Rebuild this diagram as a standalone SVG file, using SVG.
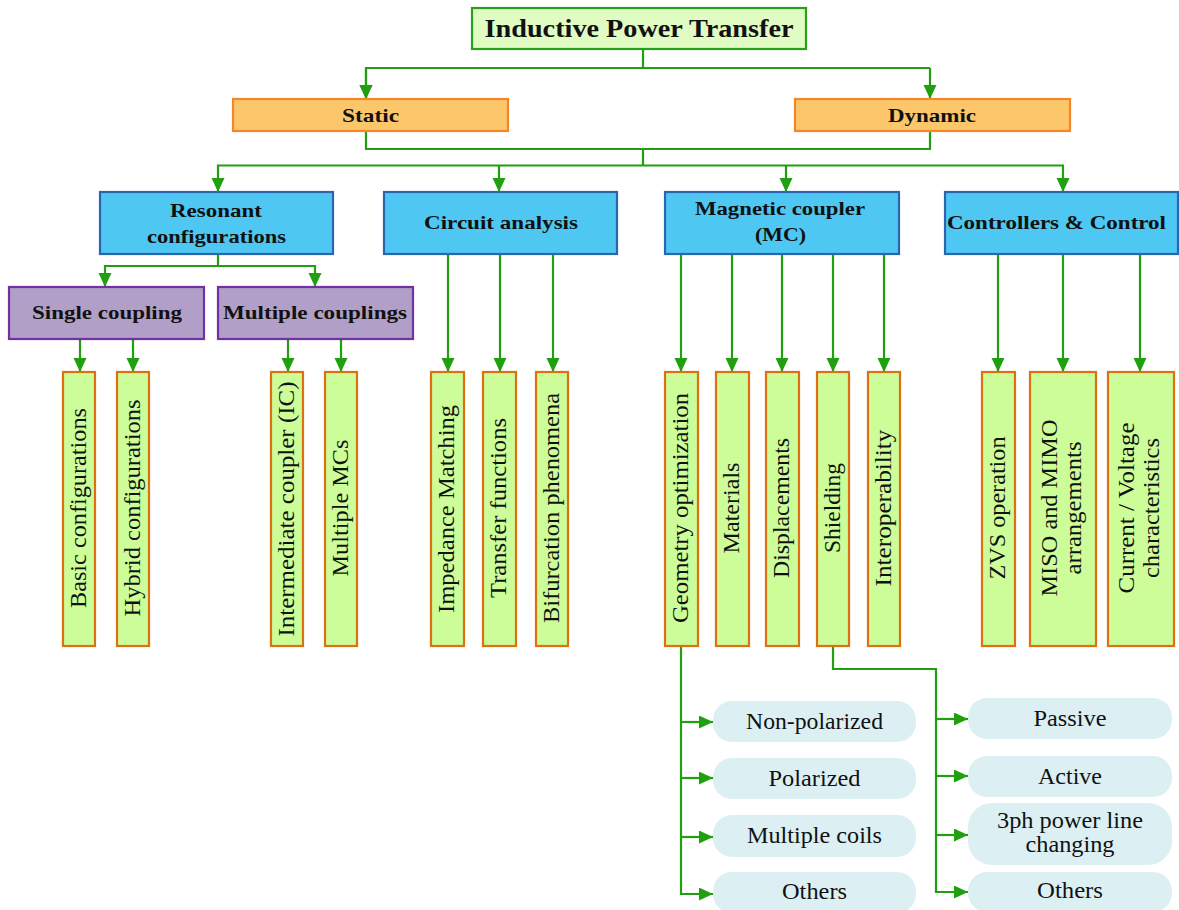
<svg xmlns="http://www.w3.org/2000/svg" width="1179" height="910" viewBox="0 0 1179 910">
<defs>
<marker id="ah" markerUnits="userSpaceOnUse" markerWidth="16" markerHeight="14" refX="14" refY="6.5" orient="auto">
<path d="M0,0 L14,6.5 L0,13 z" fill="#20a010"/>
</marker>
<style>
.root{fill:#e1fcc3;stroke:#27a01c;stroke-width:2.2}
.l1{fill:#fcc76b;stroke:#f5852a;stroke-width:2.2}
.l2{fill:#4ec7f3;stroke:#2b65ae;stroke-width:2.2}
.pu{fill:#b19fc8;stroke:#7230a0;stroke-width:2.2}
.leaf{fill:#ccfd98;stroke:#e0700f;stroke-width:2.2}
.pill{fill:#dcf0f4;stroke:none}
.c{fill:none;stroke:#20a010;stroke-width:2.2}
.a{marker-end:url(#ah)}
text{font-family:"Liberation Serif","Times New Roman",serif;fill:#111;text-anchor:middle}
.b{font-weight:bold;font-size:19px}
.bt{font-weight:bold;font-size:25px}
.n{font-size:23px}
</style>
</defs>
<rect width="1179" height="910" fill="#fff"/>

<g id="connectors">
<path class="c" d="M643,49 V68 H930"/>
<path class="c a" d="M366,68 V99"/>
<path class="c a" d="M643,68 H366 V99"/>
<path class="c a" d="M930,68 V99"/>
<path class="c" d="M366,131 V149 H930 V131"/>
<path class="c" d="M643,149 V165.5"/>
<path class="c a" d="M643,165.5 H218 V192"/>
<path class="c a" d="M499,165.5 V192"/>
<path class="c a" d="M643,165.5 H1063 V192"/>
<path class="c a" d="M786,165.5 V192"/>
<path class="c a" d="M218,254 V266 H105 V287"/>
<path class="c a" d="M218,266 H315 V287"/>
<path class="c a" d="M80,339 V372"/>
<path class="c a" d="M133,339 V372"/>
<path class="c a" d="M288,339 V372"/>
<path class="c a" d="M341,339 V372"/>
<path class="c a" d="M448,254 V372"/>
<path class="c a" d="M500,254 V372"/>
<path class="c a" d="M553,254 V372"/>
<path class="c a" d="M681,254 V372"/>
<path class="c a" d="M732,254 V372"/>
<path class="c a" d="M782,254 V372"/>
<path class="c a" d="M833,254 V372"/>
<path class="c a" d="M884,254 V372"/>
<path class="c a" d="M998,254 V372"/>
<path class="c a" d="M1063,254 V372"/>
<path class="c a" d="M1140,254 V372"/>
<path class="c a" d="M681,646 V894 H713"/>
<path class="c a" d="M681,722 H713"/>
<path class="c a" d="M681,778 H713"/>
<path class="c a" d="M681,837 H713"/>
<path class="c a" d="M833,646 V669 H936 V892 H968"/>
<path class="c a" d="M936,719 H968"/>
<path class="c a" d="M936,776 H968"/>
<path class="c a" d="M936,835 H968"/>
</g>

<g id="n-root"><rect class="root" x="472" y="8" width="334" height="41"/><text class="bt" x="639" y="37" textLength="309" lengthAdjust="spacingAndGlyphs">Inductive Power Transfer</text></g>

<g id="n-static"><rect class="l1" x="233" y="99" width="275" height="32"/><text class="b" x="370.5" y="122" textLength="57" lengthAdjust="spacingAndGlyphs">Static</text></g>
<g id="n-dynamic"><rect class="l1" x="795" y="99" width="275" height="32"/><text class="b" x="932" y="122" textLength="88" lengthAdjust="spacingAndGlyphs">Dynamic</text></g>

<g id="n-resonant"><rect class="l2" x="100" y="192" width="233" height="62"/><text class="b" x="216" y="217" textLength="92" lengthAdjust="spacingAndGlyphs">Resonant</text><text class="b" x="216.5" y="243" textLength="139" lengthAdjust="spacingAndGlyphs">configurations</text></g>
<g id="n-circuit"><rect class="l2" x="384" y="192" width="233" height="62"/><text class="b" x="501" y="229" textLength="154" lengthAdjust="spacingAndGlyphs">Circuit analysis</text></g>
<g id="n-mc"><rect class="l2" x="665" y="192" width="234" height="62"/><text class="b" x="780" y="215" textLength="170" lengthAdjust="spacingAndGlyphs">Magnetic coupler</text><text class="b" x="780.5" y="241" textLength="51" lengthAdjust="spacingAndGlyphs">(MC)</text></g>
<g id="n-ctrl"><rect class="l2" x="945" y="192" width="233" height="62"/><text class="b" x="1056.5" y="229" textLength="219" lengthAdjust="spacingAndGlyphs">Controllers &amp; Control</text></g>

<g id="n-single"><rect class="pu" x="9" y="287" width="195" height="52"/><text class="b" x="107" y="319" textLength="150" lengthAdjust="spacingAndGlyphs">Single coupling</text></g>
<g id="n-multiple"><rect class="pu" x="218" y="287" width="195" height="52"/><text class="b" x="315" y="319" textLength="184" lengthAdjust="spacingAndGlyphs">Multiple couplings</text></g>

<g id="n-basic"><rect class="leaf" x="63" y="372" width="32" height="274"/><text class="n" transform="translate(86,508) rotate(-90)" textLength="200" lengthAdjust="spacingAndGlyphs">Basic configurations</text></g>
<g id="n-hybrid"><rect class="leaf" x="117" y="372" width="32" height="274"/><text class="n" transform="translate(140,508) rotate(-90)" textLength="217" lengthAdjust="spacingAndGlyphs">Hybrid configurations</text></g>
<g id="n-ic"><rect class="leaf" x="271" y="372" width="32" height="274"/><text class="n" transform="translate(294,509) rotate(-90)" textLength="255" lengthAdjust="spacingAndGlyphs">Intermediate coupler (IC)</text></g>
<g id="n-mmc"><rect class="leaf" x="325" y="372" width="32" height="274"/><text class="n" transform="translate(348,508) rotate(-90)" textLength="137" lengthAdjust="spacingAndGlyphs">Multiple MCs</text></g>

<g id="n-imp"><rect class="leaf" x="431" y="372" width="33" height="274"/><text class="n" transform="translate(454,509) rotate(-90)" textLength="208" lengthAdjust="spacingAndGlyphs">Impedance Matching</text></g>
<g id="n-tf"><rect class="leaf" x="483" y="372" width="33" height="274"/><text class="n" transform="translate(506,508) rotate(-90)" textLength="180" lengthAdjust="spacingAndGlyphs">Transfer functions</text></g>
<g id="n-bif"><rect class="leaf" x="536" y="372" width="32" height="274"/><text class="n" transform="translate(559,508) rotate(-90)" textLength="230" lengthAdjust="spacingAndGlyphs">Bifurcation phenomena</text></g>

<g id="n-geo"><rect class="leaf" x="665" y="372" width="33" height="274"/><text class="n" transform="translate(688,508) rotate(-90)" textLength="230" lengthAdjust="spacingAndGlyphs">Geometry optimization</text></g>
<g id="n-mat"><rect class="leaf" x="716" y="372" width="33" height="274"/><text class="n" transform="translate(739,508) rotate(-90)" textLength="91" lengthAdjust="spacingAndGlyphs">Materials</text></g>
<g id="n-disp"><rect class="leaf" x="766" y="372" width="33" height="274"/><text class="n" transform="translate(789,508) rotate(-90)" textLength="140" lengthAdjust="spacingAndGlyphs">Displacements</text></g>
<g id="n-shield"><rect class="leaf" x="817" y="372" width="32" height="274"/><text class="n" transform="translate(840,508) rotate(-90)" textLength="90" lengthAdjust="spacingAndGlyphs">Shielding</text></g>
<g id="n-inter"><rect class="leaf" x="868" y="372" width="32" height="274"/><text class="n" transform="translate(891,508) rotate(-90)" textLength="157" lengthAdjust="spacingAndGlyphs">Interoperability</text></g>

<g id="n-zvs"><rect class="leaf" x="982" y="372" width="33" height="274"/><text class="n" transform="translate(1005,508) rotate(-90)" textLength="143" lengthAdjust="spacingAndGlyphs">ZVS operation</text></g>
<g id="n-miso"><rect class="leaf" x="1030" y="372" width="66" height="274"/><text class="n" transform="translate(1057,508) rotate(-90)" textLength="177" lengthAdjust="spacingAndGlyphs">MISO and MIMO</text><text class="n" transform="translate(1081,508) rotate(-90)" textLength="133" lengthAdjust="spacingAndGlyphs">arrangements</text></g>
<g id="n-cv"><rect class="leaf" x="1108" y="372" width="66" height="274"/><text class="n" transform="translate(1134,508) rotate(-90)" textLength="171" lengthAdjust="spacingAndGlyphs">Current / Voltage</text><text class="n" transform="translate(1159,508) rotate(-90)" textLength="140" lengthAdjust="spacingAndGlyphs">characteristics</text></g>

<g id="n-nonpol"><rect class="pill" x="713" y="701" width="203" height="41" rx="19"/><text class="n" x="814.5" y="729" textLength="137" lengthAdjust="spacingAndGlyphs">Non-polarized</text></g>
<g id="n-pol"><rect class="pill" x="713" y="758" width="203" height="41" rx="19"/><text class="n" x="814.5" y="786" textLength="92" lengthAdjust="spacingAndGlyphs">Polarized</text></g>
<g id="n-mcoils"><rect class="pill" x="713" y="815" width="203" height="42" rx="19"/><text class="n" x="814.5" y="843" textLength="135" lengthAdjust="spacingAndGlyphs">Multiple coils</text></g>
<g id="n-others1"><rect class="pill" x="713" y="872" width="203" height="41" rx="19"/><text class="n" x="814.5" y="899" textLength="65" lengthAdjust="spacingAndGlyphs">Others</text></g>

<g id="n-passive"><rect class="pill" x="968" y="698" width="204" height="41" rx="19"/><text class="n" x="1070" y="726" textLength="73" lengthAdjust="spacingAndGlyphs">Passive</text></g>
<g id="n-active"><rect class="pill" x="968" y="756" width="204" height="41" rx="19"/><text class="n" x="1070" y="784" textLength="64" lengthAdjust="spacingAndGlyphs">Active</text></g>
<g id="n-3ph"><rect class="pill" x="968" y="803" width="204" height="62" rx="24"/><text class="n" x="1070" y="828" textLength="146" lengthAdjust="spacingAndGlyphs">3ph power line</text><text class="n" x="1070" y="852" textLength="89" lengthAdjust="spacingAndGlyphs">changing</text></g>
<g id="n-others2"><rect class="pill" x="968" y="872" width="204" height="40" rx="19"/><text class="n" x="1070" y="898" textLength="66" lengthAdjust="spacingAndGlyphs">Others</text></g>
</svg>
